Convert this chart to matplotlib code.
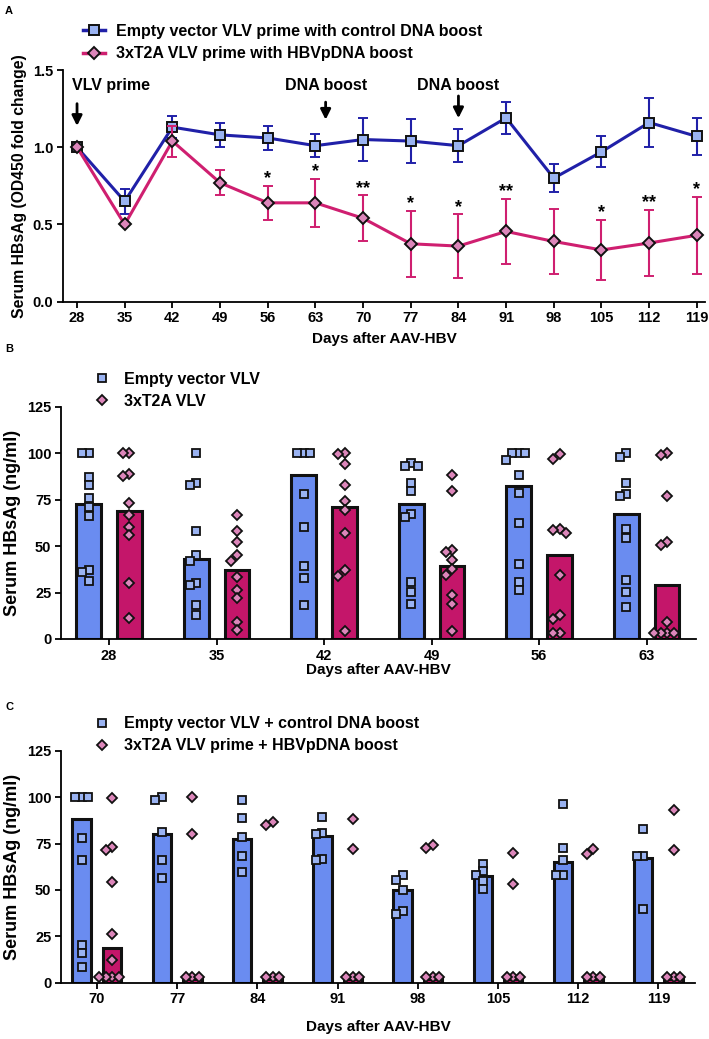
import numpy as np
import matplotlib
matplotlib.use("Agg")
import matplotlib.pyplot as plt
from matplotlib.lines import Line2D

plt.rcParams['font.family'] = ['Liberation Sans', 'DejaVu Sans']
plt.rcParams['font.weight'] = 'bold'
plt.rcParams['axes.labelweight'] = 'bold'

# ---------------- data ----------------
# panel A: fold change time course
days_a = [28, 35, 42, 49, 56, 63, 70, 77, 84, 91, 98, 105, 112, 119]
ctrl_mean = [1.0, 0.65, 1.13, 1.08, 1.06, 1.01, 1.05, 1.04, 1.01, 1.19, 0.80, 0.97, 1.16, 1.07]
ctrl_err = [0.0, 0.08, 0.07, 0.08, 0.075, 0.075, 0.14, 0.14, 0.105, 0.105, 0.09, 0.10, 0.16, 0.12]
vlv_mean = [1.0, 0.50, 1.04, 0.77, 0.64, 0.64, 0.54, 0.375, 0.36, 0.455, 0.39, 0.335, 0.38, 0.43]
vlv_err = [0.0, 0.0, 0.10, 0.08, 0.11, 0.155, 0.15, 0.215, 0.205, 0.21, 0.21, 0.195, 0.215, 0.25]
stars = ['', '', '', '', '*', '*', '**', '*', '*', '**', '', '*', '**', '*']

# panel B: prime phase, ng/ml
days_b = ['28', '35', '42', '49', '56', '63']
b_ctrl_bar = [72.6, 43, 88.2, 72.6, 82.5, 67.3]
b_vlv_bar = [69, 37, 71, 39.5, 45.2, 29.2]
b_ctrl_pts = [
    [100, 100, 87, 83, 76, 71, 66, 37, 36, 31],
    [100, 84, 83, 58, 45, 42, 30, 29, 18.5, 13],
    [100, 100, 100, 78, 60.5, 39.5, 33, 18.5],
    [94.5, 93, 93, 84, 79.5, 67, 65.5, 30.5, 25.5, 19],
    [100, 100, 100, 96.5, 88.5, 78.6, 62.4, 40.4, 30.7, 26.4],
    [100, 97.7, 84, 78, 76.8, 59, 54.3, 31.7, 25.3, 17.4],
]
b_vlv_pts = [
    [100, 100, 89, 87.5, 73, 66.5, 60, 56, 30, 11.5],
    [66.5, 58, 52, 45, 42, 33.5, 26.5, 22, 9, 5],
    [100, 99.5, 94, 83, 74, 69.5, 57, 37, 34, 4.5],
    [88.2, 79.8, 47.9, 46.6, 42.5, 37.7, 34.3, 23.7, 18.7, 4.1],
    [99.7, 96.7, 59.2, 58.7, 57.2, 34.5, 12.7, 10.8, 3.3, 3.0],
    [100, 99, 77, 52, 50.5, 9, 3, 3, 3, 3],
]

# panel C: boost phase, ng/ml
days_c = ['70', '77', '84', '91', '98', '105', '112', '119']
c_ctrl_bar = [88, 80.3, 77.6, 79.2, 49.7, 57.5, 65.2, 67.3]
c_vlv_bar = [18.7, 2, 2, 2, 2, 2, 2, 2]
c_ctrl_pts = [
    [100, 100, 100, 78, 66, 20.5, 16, 8.6],
    [100, 98.5, 81.3, 66, 56.5],
    [98.2, 88.8, 78.4, 68, 59.9],
    [89.1, 80.8, 80.0, 66.6, 65.9],
    [58.2, 55.5, 50.2, 38.4, 36.8],
    [64.1, 60.2, 57.8, 55, 50.6],
    [96.5, 72.5, 66.2, 58.2, 58],
    [82.6, 68.4, 68.2, 39.5],
]
c_vlv_pts = [
    [99.5, 73.2, 71.6, 54, 26.4, 12.4, 3, 3, 3, 3],
    [100, 80, 3, 3, 3],
    [86.4, 84.8, 3, 3, 3],
    [88.4, 72.2, 3, 3, 3],
    [74.2, 72.5, 3, 3, 3],
    [69.8, 53.4, 3, 3, 3],
    [71.8, 69.5, 3, 3, 3],
    [93.1, 71.6, 3, 3, 3],
]

# ---------------- styles ----------------
navy = '#2020a8'
magenta = '#cf1f70'
blue_face = '#9ab3f2'
pink_face = '#dc86ba'
bar_blue = '#6a8cf0'
bar_pink = '#c4166a'
edge = '#111111'

fig = plt.figure(figsize=(7.09, 10.39), dpi=100)


def style_axes(ax):
    for s in ['top', 'right']:
        ax.spines[s].set_visible(False)
    for s in ['left', 'bottom']:
        ax.spines[s].set_linewidth(1.3)
    ax.tick_params(width=1.3, length=4, labelsize=10.5, pad=3)
    for lab in ax.get_xticklabels() + ax.get_yticklabels():
        lab.set_fontweight('bold')


def swarm(vals, px_per_x, px_per_y, size=8.0, step=6.5):
    # simple beeswarm: returns x offsets (data units)
    placed = []
    offs = []
    cands = [0, -1, 1, -2, 2, -3, 3]
    for v in vals:
        for c in cands:
            dx = c * step
            ok = True
            for (px, py) in placed:
                if abs(px - dx) < step * 0.9 and abs(py - v * px_per_y) < size * 0.9:
                    ok = False
                    break
            if ok:
                break
        placed.append((dx, v * px_per_y))
        offs.append(dx / px_per_x)
    return offs


# ---------------- panel A ----------------
axA = fig.add_axes([63 / 709, 1 - 301.7 / 1039, 642 / 709, 231.7 / 1039])
axA.errorbar(days_a, ctrl_mean, yerr=ctrl_err, color=navy, lw=2.2, elinewidth=1.5,
             capsize=3.5, capthick=1.5, marker='s', ms=7.5, mfc=blue_face, mec=edge,
             mew=1.4, zorder=3)
axA.errorbar(days_a, vlv_mean, yerr=vlv_err, color=magenta, lw=2.2, elinewidth=1.5,
             capsize=3.5, capthick=1.5, marker='D', ms=6.5, mfc=pink_face, mec=edge,
             mew=1.4, zorder=4)
for d, m, e, s in zip(days_a, vlv_mean, vlv_err, stars):
    if s:
        axA.text(d, m + e + 0.045, s, ha='center', va='center', fontsize=13,
                 fontweight='bold')
axA.set_xlim(25.94, 120.2)
axA.set_ylim(0, 1.5)
axA.set_xticks(days_a)
axA.set_yticks([0.0, 0.5, 1.0, 1.5])
axA.set_yticklabels(['0.0', '0.5', '1.0', '1.5'])
axA.set_xlabel('Days after AAV-HBV', fontsize=11, labelpad=5)
axA.set_ylabel('Serum HBsAg (OD450 fold change)', fontsize=11.3, labelpad=4)
style_axes(axA)

arrow = dict(arrowstyle='-|>', color='black', lw=2, mutation_scale=15)
axA.annotate('', xy=(28, 1.12), xytext=(28, 1.30), arrowprops=arrow)
axA.text(27.3, 1.40, 'VLV prime', ha='left', va='center', fontsize=11.5)
axA.annotate('', xy=(64.5, 1.16), xytext=(64.5, 1.31), arrowprops=arrow)
axA.text(64.5, 1.40, 'DNA boost', ha='center', va='center', fontsize=11.5)
axA.annotate('', xy=(84, 1.17), xytext=(84, 1.35), arrowprops=arrow)
axA.text(84, 1.40, 'DNA boost', ha='center', va='center', fontsize=11.5)

hA = [Line2D([], [], color=navy, lw=2.5, marker='s', ms=7.5, mfc=blue_face, mec=edge, mew=1.4),
      Line2D([], [], color=magenta, lw=2.5, marker='D', ms=6.5, mfc=pink_face, mec=edge, mew=1.4)]
axA.legend(hA, ['Empty vector VLV prime with control DNA boost',
                '3xT2A VLV prime with HBVpDNA boost'],
           loc='center left', bbox_to_anchor=(83 / 709, 1 - 42.5 / 1039),
           bbox_transform=fig.transFigure, frameon=False,
           handlelength=1.35, handletextpad=0.7, labelspacing=0.5,
           borderpad=0, borderaxespad=0, prop={'weight': 'bold', 'size': 11.5})

fig.text(5 / 709, 1 - 11 / 1039, 'A', fontsize=8, fontweight='bold', va='center')


# ---------------- bar panels ----------------
def bar_panel(rect, cats, bar1, bar2, pts1, pts2, labels, legend_y, letter, letter_y, xpad):
    ax = fig.add_axes(rect)
    x = np.arange(len(cats))
    w = 0.23
    off = 0.19
    xlim = (-0.447, len(cats) - 1 + 0.456)
    ax.set_xlim(*xlim)
    ax.set_ylim(0, 125)
    ax.bar(x - off, bar1, width=w, color=bar_blue, edgecolor=edge, linewidth=2.2, zorder=2)
    ax.bar(x + off, bar2, width=w, color=bar_pink, edgecolor=edge, linewidth=2.2, zorder=2)
    px_per_x = rect[2] * 709 / (xlim[1] - xlim[0])
    px_per_y = rect[3] * 1039 / 125
    for i in range(len(cats)):
        o1 = swarm(pts1[i], px_per_x, px_per_y)
        o2 = swarm(pts2[i], px_per_x, px_per_y)
        ax.plot(x[i] - off + np.array(o1), pts1[i], ls='none', marker='s', ms=6.3,
                mfc=blue_face, mec=edge, mew=1.3, zorder=4, clip_on=False)
        ax.plot(x[i] + off + np.array(o2), pts2[i], ls='none', marker='D', ms=5.6,
                mfc=pink_face, mec=edge, mew=1.3, zorder=4, clip_on=False)
    ax.set_xticks(x)
    ax.set_xticklabels(cats)
    ax.set_yticks([0, 25, 50, 75, 100, 125])
    ax.set_xlabel('Days after AAV-HBV', fontsize=11, labelpad=xpad)
    ax.set_ylabel('Serum HBsAg (ng/ml)', fontsize=13, labelpad=4)
    style_axes(ax)
    h = [Line2D([], [], ls='none', marker='s', ms=6.3, mfc=blue_face, mec=edge, mew=1.3),
         Line2D([], [], ls='none', marker='D', ms=5.6, mfc=pink_face, mec=edge, mew=1.3)]
    ax.legend(h, labels, loc='center left', bbox_to_anchor=(94 / 709, legend_y),
              bbox_transform=fig.transFigure, frameon=False,
              handlelength=1.0, handletextpad=0.9, labelspacing=0.45,
              borderpad=0, borderaxespad=0, prop={'weight': 'bold', 'size': 11.5})
    fig.text(5 / 709, letter_y, letter, fontsize=8, fontweight='bold', va='center')
    return ax


bar_panel([61 / 709, 1 - 639 / 1039, 634.7 / 709, 232.3 / 1039], days_b,
          b_ctrl_bar, b_vlv_bar, b_ctrl_pts, b_vlv_pts,
          ['Empty vector VLV', '3xT2A VLV'], 1 - 390.3 / 1039, 'B', 1 - 349 / 1039, 0)
bar_panel([61 / 709, 1 - 982.7 / 1039, 634 / 709, 232 / 1039], days_c,
          c_ctrl_bar, c_vlv_bar, c_ctrl_pts, c_vlv_pts,
          ['Empty vector VLV + control DNA boost', '3xT2A VLV prime + HBVpDNA boost'],
          1 - 734.7 / 1039, 'C', 1 - 707 / 1039, 10)

fig.savefig('out.png', dpi=100)
